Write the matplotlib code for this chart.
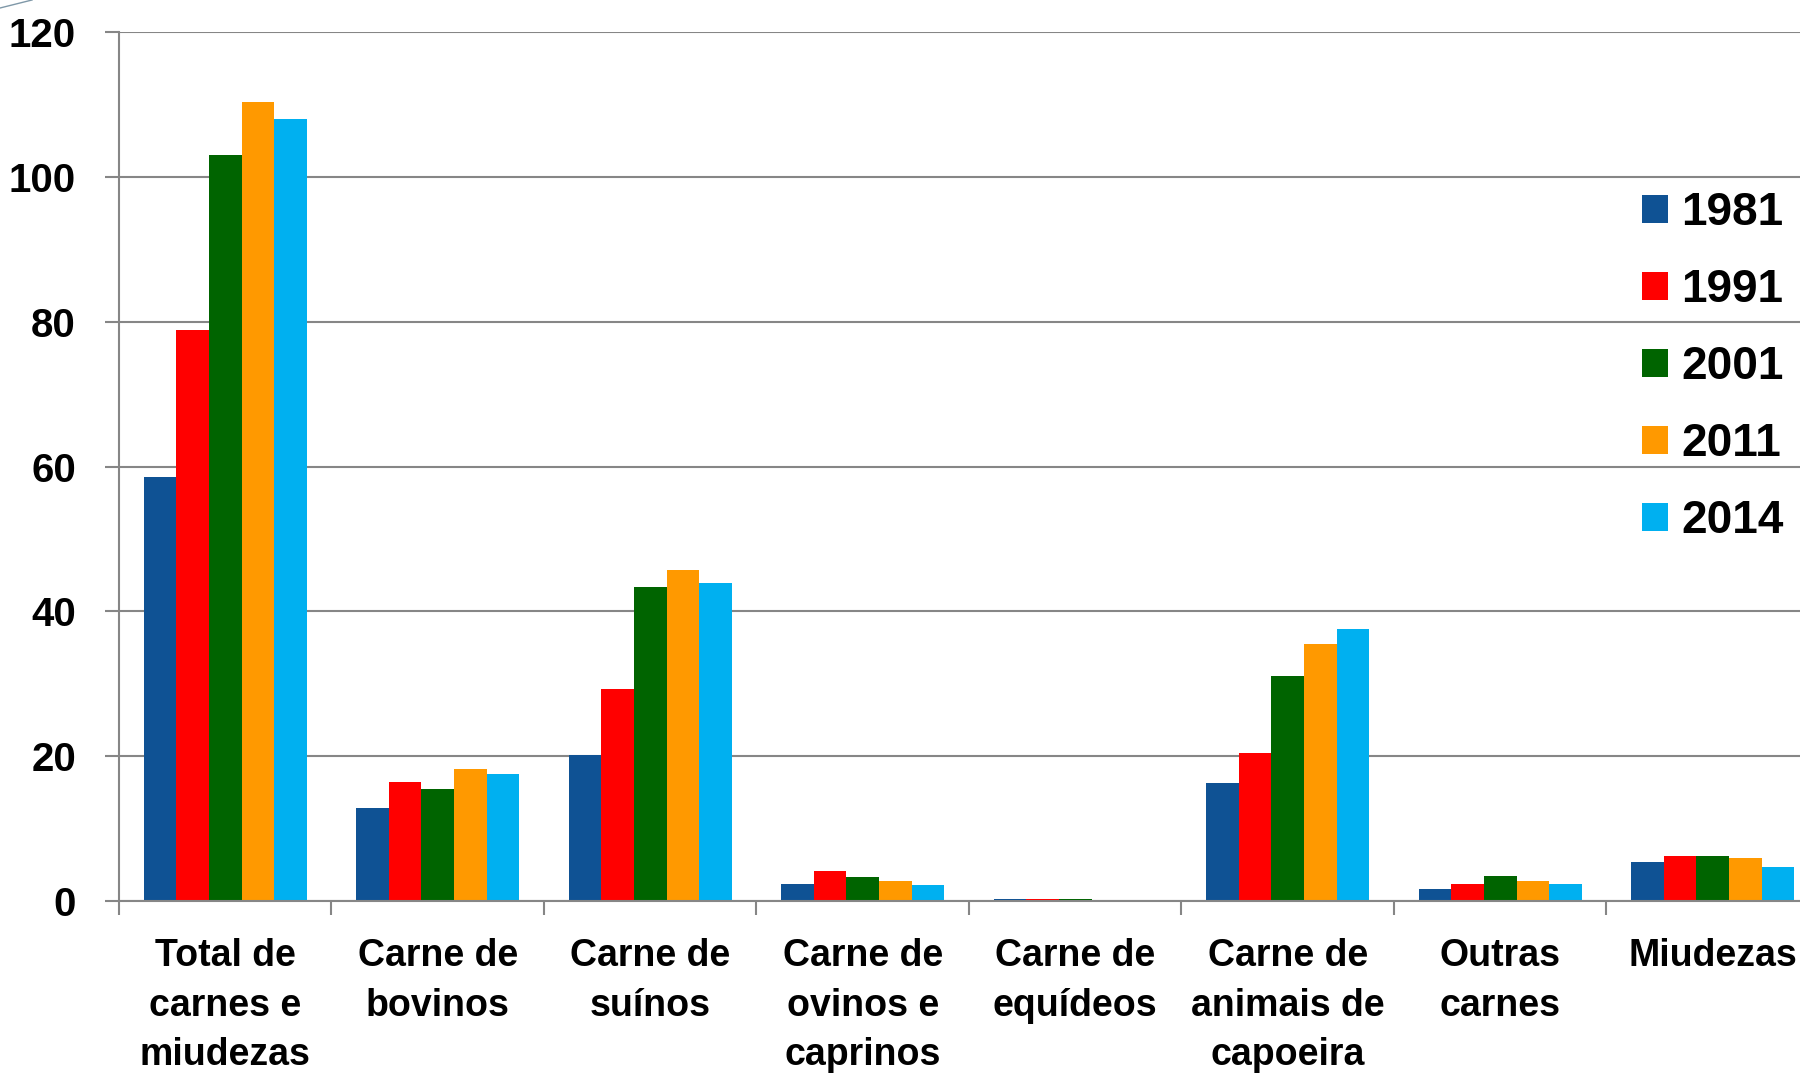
import matplotlib.pyplot as plt
import numpy as np
from matplotlib.lines import Line2D

categorias = ['Total de\ncarnes e\nmiudezas', 'Carne de\nbovinos', 'Carne de\nsuínos',
              'Carne de\novinos e\ncaprinos', 'Carne de\nequídeos',
              'Carne de\nanimais de\ncapoeira', 'Outras\ncarnes', 'Miudezas']
anos = ['1981', '1991', '2001', '2011', '2014']

v1981 = [58.5, 12.8, 20.1, 2.4, 0.3, 16.3, 1.6, 5.4]
v1991 = [78.8, 16.5, 29.3, 4.1, 0.3, 20.4, 2.4, 6.2]
v2001 = [103.0, 15.4, 43.4, 3.3, 0.3, 31.1, 3.5, 6.2]
v2011 = [110.3, 18.2, 45.7, 2.7, 0.0, 35.5, 2.7, 5.9]
v2014 = [108.0, 17.6, 43.9, 2.2, 0.0, 37.6, 2.4, 4.7]
series = [v1981, v1991, v2001, v2011, v2014]
cores = ['#0F5294', '#FF0000', '#006400', '#FF9900', '#00B0F0']

plt.rcParams['font.family'] = ['Liberation Sans Narrow', 'Liberation Sans', 'DejaVu Sans']
plt.rcParams['font.weight'] = 'bold'

fig = plt.figure(figsize=(18, 10.77), dpi=100)
ax = fig.add_axes([119/1800, 176/1077, 1700/1800, 869/1077])

x = np.arange(len(categorias))
w = 0.153
for j in range(len(anos)):
    ax.bar(x + (j - 2) * w, series[j], w, color=cores[j], label=anos[j], linewidth=0)

ax.set_xlim(-0.5, len(categorias) - 0.5)
ax.set_ylim(0, 120)
ax.set_yticks(range(0, 121, 20))
ax.grid(axis='y', color='#868686', linewidth=1.5)
ax.set_axisbelow(True)
for s in ['top', 'right']:
    ax.spines[s].set_visible(False)
for s in ['left', 'bottom']:
    ax.spines[s].set_color('#868686')
    ax.spines[s].set_linewidth(1.5)

ax.tick_params(axis='y', length=10, width=1.5, color='#868686', pad=21, labelsize=29)
ax.set_xticks(x)
ax.set_xticklabels(categorias, fontsize=27, linespacing=1.47)
ax.set_xticks(np.arange(len(categorias) + 1) - 0.5, minor=True)
ax.tick_params(axis='x', which='major', length=0, pad=27)
ax.tick_params(axis='x', which='minor', length=10, width=1.5, color='#868686')

ax.legend(loc='center left', bbox_to_anchor=(1642/1800, 1 - 367/1077),
          bbox_transform=fig.transFigure, frameon=False, fontsize=33,
          handlelength=0.56, handleheight=0.56, handletextpad=0.3,
          labelspacing=0.72, borderpad=0, borderaxespad=0)

fig.add_artist(Line2D([0, 32/1800], [1 - 8/1077, 1], transform=fig.transFigure,
                      color='#7f98a8', linewidth=1))

fig.savefig('out.png', dpi=100)
